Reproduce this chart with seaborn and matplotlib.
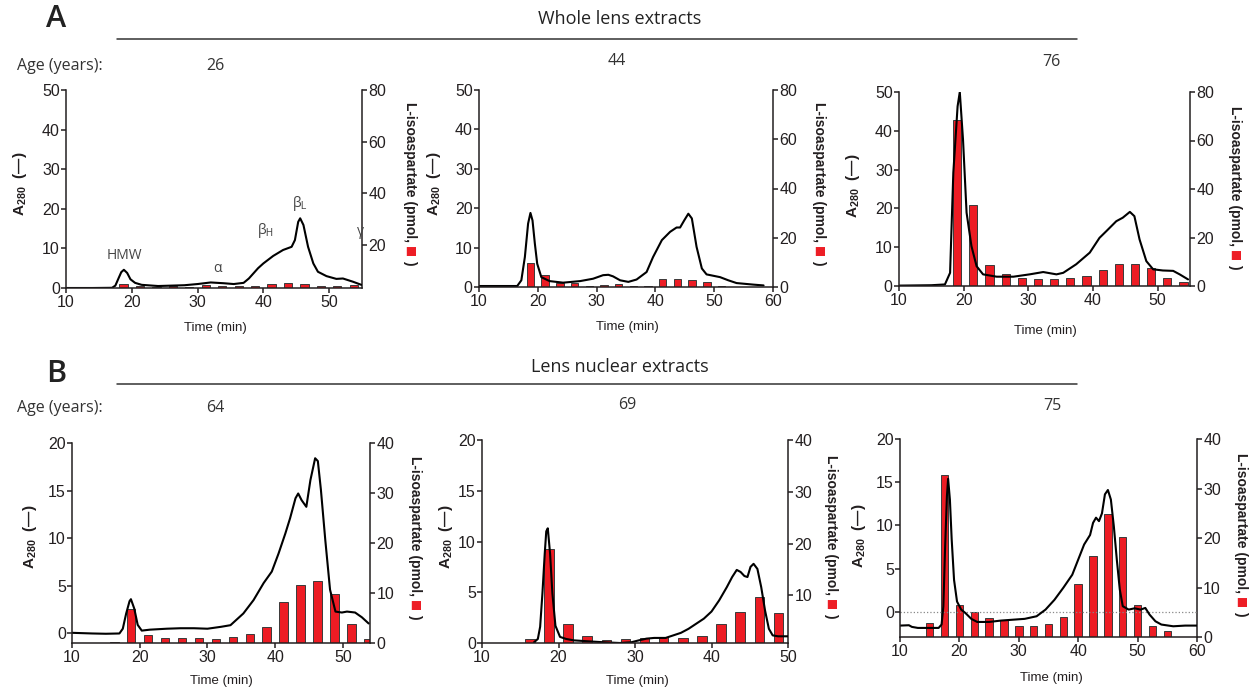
import matplotlib
matplotlib.use('Agg')
import matplotlib.pyplot as plt
from matplotlib.lines import Line2D
import seaborn as sns

# ---------------- data ----------------
# A: whole lens extracts
a26_time = [10, 14, 17, 17.5, 18.0, 18.4, 18.8, 19.3, 19.8, 20.5, 21.5, 24, 28, 30, 32, 34, 35.5,
            37, 37.8, 38.5, 39.2, 40, 41.5, 43, 44.3, 44.8, 45.3, 45.6, 46.1, 46.8, 47.6, 48.3,
            49.6, 51.1, 52.1, 53.6, 54.9]
a26_abs = [0, 0, 0.05, 0.6, 2.5, 4.0, 4.6, 3.8, 2.2, 1.3, 0.8, 0.5, 0.7, 1.0, 1.4, 1.2, 1.0,
           1.3, 2.4, 3.7, 5.0, 6.2, 8.1, 9.6, 10.4, 12.1, 16.7, 17.6, 15.9, 10.4, 6.2, 4.1,
           3.0, 2.3, 2.4, 1.6, 0.8]
a26_frac = [18.75, 21.25, 23.75, 26.25, 28.75, 31.25, 33.75, 36.25, 38.75, 41.25, 43.75, 46.25,
            48.75, 51.25, 53.75]
a26_iso = [4.9, 4.3, 3.6, 4.1, 3.6, 4.6, 4.2, 4.1, 4.0, 4.8, 5.2, 4.8, 4.0, 4.0, 4.4]

a44_time = [10, 16.5, 17.2, 17.8, 18.35, 18.75, 19.1, 19.5, 19.9, 20.6, 22.0, 24.3, 27.2, 29.4,
            31.1, 32.0, 32.8, 34.0, 35.4, 36.8, 38.5, 39.6, 41.1, 42.5, 43.6, 44.2, 44.9, 45.6,
            46.2, 47.0, 47.9, 48.7, 51.0, 52.4, 53.8, 56.7, 58.4]
a44_abs = [0.25, 0.25, 1.7, 7.6, 16.1, 18.8, 16.9, 11.0, 5.9, 2.5, 1.5, 1.1, 1.5, 2.1, 3.0, 3.1,
           2.7, 1.7, 1.3, 1.9, 3.8, 7.6, 11.9, 14.0, 15.1, 15.1, 16.9, 18.6, 17.4, 10.2, 4.7,
           3.2, 2.5, 1.7, 1.0, 0.6, 0.4]
a44_frac = [18.75, 21.25, 23.75, 26.25, 28.75, 31.25, 33.75, 36.25, 38.75, 41.25, 43.75, 46.25,
            48.75, 51.25]
a44_iso = [9.8, 5.0, 1.5, 1.5, 0.3, 0.7, 1.1, 0.3, 0.5, 3.1, 3.4, 2.8, 2.2, 0.5]

a76_time = [10, 15, 17.1, 17.9, 18.4, 19.06, 19.4, 19.9, 20.45, 21.2, 22.0, 23.0, 25.1, 27.7, 30.2,
            32.3, 34.35, 35.4, 37.4, 39.5, 41.0, 42.1, 43.6, 44.6, 45.7, 46.4, 47.2, 48.25, 49.3,
            50.8, 52.4, 53.4, 54.7]
a76_abs = [0.1, 0.2, 0.4, 3.4, 29.2, 46.3, 50.0, 37.7, 18.9, 10.3, 5.1, 3.0, 2.4, 2.4, 3.0, 3.6,
           3.0, 3.4, 5.6, 8.6, 12.4, 14.2, 16.7, 17.6, 19.1, 18.0, 12.0, 6.4, 4.3, 4.0, 3.9, 3.0, 1.7]
a76_frac = [19, 21.5, 24, 26.5, 29, 31.5, 34, 36.5, 39, 41.5, 44, 46.5, 49, 51.5, 54]
a76_iso = [68.6, 33.3, 8.5, 5.1, 3.3, 2.7, 2.9, 3.3, 4.1, 6.6, 9.1, 8.9, 7.5, 3.2, 1.6]

# B: lens nuclear extracts
b64_time = [10, 13, 15, 17, 17.5, 18, 18.5, 18.7, 19.2, 19.7, 20.3, 21.5, 24, 26, 28, 30, 32, 33.4,
            35.3, 36.8, 38.3, 39.5, 40.5, 41.5, 42.2, 43.0, 43.4, 43.9, 44.6, 45.2, 45.9, 46.3,
            46.75, 47.4, 48.1, 48.9, 49.85, 50.6, 51.8, 52.8, 53.8]
b64_abs = [0.07, 0, -0.03, 0, 0.5, 2.1, 3.4, 3.6, 2.6, 0.9, 0.3, 0.4, 0.5, 0.55, 0.55, 0.5, 0.7,
           0.87, 2.1, 3.5, 5.3, 6.5, 8.4, 10.5, 12.1, 14.2, 14.7, 14.0, 13.3, 16.1, 18.4, 18.1,
           15.1, 9.8, 4.6, 2.3, 2.2, 2.3, 2.2, 1.7, 1.05]
b64_frac = [16.25, 18.75, 21.25, 23.75, 26.25, 28.75, 31.25, 33.75, 36.25, 38.75, 41.25, 43.75,
            46.25, 48.75, 51.25, 53.75]
b64_iso = [0.2, 6.9, 1.7, 1.1, 1.1, 1.1, 0.9, 1.3, 1.8, 3.3, 8.3, 11.7, 12.4, 9.9, 3.9, 0.9]

b69_time = [16.8, 17.3, 17.6, 17.9, 18.2, 18.4, 18.6, 18.9, 19.2, 19.6, 20.2, 21, 22, 24, 26, 28,
            29.5, 30.5, 31.5, 32.5, 34, 35, 36, 37, 38, 39, 40, 41, 42, 42.7, 43.3, 43.8, 44.3,
            44.7, 45.1, 45.5, 46, 46.5, 47, 47.5, 48, 48.7, 49.5, 50]
b69_abs = [0.07, 0.4, 1.6, 4.9, 8.8, 11.0, 11.3, 8.8, 4.9, 1.7, 0.6, 0.4, 0.26, 0.16, 0.07, 0,
           0.07, 0.26, 0.43, 0.5, 0.5, 0.75, 1.0, 1.4, 1.9, 2.4, 3.1, 4.2, 5.5, 6.5, 7.2, 7.0,
           6.6, 6.5, 7.5, 7.8, 7.3, 5.5, 3.2, 1.4, 0.75, 0.66, 0.66, 0.66]
b69_frac = [16.25, 18.75, 21.25, 23.75, 26.25, 28.75, 31.25, 33.75, 36.25, 38.75, 41.25, 43.75,
            46.25, 48.75]
b69_iso = [1.6, 18.9, 4.45, 2.1, 1.3, 1.5, 1.8, 1.9, 1.7, 2.1, 4.4, 6.8, 9.7, 6.6]

b75_time = [10, 11.5, 12, 13, 15, 16.5, 17, 17.3, 17.6, 17.9, 18.1, 18.4, 18.7, 19.1, 19.6, 20.3,
            21, 22, 23, 25, 27, 29, 31, 33, 34.5, 36, 37.5, 39, 40, 41, 42, 42.5, 43, 43.5, 44,
            44.5, 45, 45.5, 46, 46.5, 47, 47.5, 48.5, 49.5, 50.5, 51.3, 52, 53, 54, 56, 58, 60]
b75_abs = [-1.58, -1.54, -1.73, -1.85, -1.85, -1.85, -1.46, 0.65, 7.6, 13.4, 15.4, 13.0, 8.4, 3.7,
           1.2, 0.27, -0.12, -0.8, -1.16, -1.16, -1.0, -0.9, -0.8, -0.5, 0.27, 1.4, 2.8, 4.3,
           6.05, 7.8, 8.9, 10.3, 10.9, 10.5, 11.4, 13.6, 14.1, 13.0, 9.9, 6.05, 2.6, 0.66, 0.27,
           0.42, 0.27, 0.46, -0.3, -1.08, -1.46, -1.66, -1.58, -1.58]
b75_frac = [15, 17.5, 20, 22.5, 25, 27.5, 30, 32.5, 35, 37.5, 40, 42.5, 45, 47.5, 50, 52.5, 55]
b75_iso = [2.9, 32.7, 6.55, 5.0, 3.85, 3.4, 2.2, 2.2, 2.6, 4.05, 10.8, 16.4, 24.9, 20.2, 6.4, 2.2, 1.2]

ages_a = ['26', '44', '76']
ages_b = ['64', '69', '75']
peak_names = ['HMW', 'α', r'β$_{\mathrm{H}}$', r'β$_{\mathrm{L}}$', 'γ']
peak_pos = [(18.8, 8.3), (33.1, 5.0), (40.3, 14.6), (45.6, 21.4), (54.8, 14.3)]

# ---------------- style ----------------
RED = '#ED1C24'
INK = '#231F20'
sns.set_theme(style='ticks')
plt.rcParams.update({
    'axes.edgecolor': INK, 'axes.linewidth': 1.1,
    'xtick.color': INK, 'ytick.color': INK,
    'xtick.major.size': 3.5, 'ytick.major.size': 3.5,
    'xtick.major.width': 1.1, 'ytick.major.width': 1.1,
    'xtick.major.pad': 1.5, 'ytick.major.pad': 1.0,
    'xtick.labelsize': 11.5, 'ytick.labelsize': 11.5,
    'mathtext.fontset': 'custom', 'mathtext.rm': 'Liberation Sans',
    'mathtext.bf': 'Liberation Sans:bold', 'mathtext.it': 'Liberation Sans:italic',
})
plt.rcParams['font.family'] = ['Liberation Sans', 'DejaVu Sans']
HEAD = ['Open Sans', 'DejaVu Sans']

W, H = 1249, 691
fig = plt.figure(figsize=(W / 100, H / 100), dpi=100)


def fx(px):
    return px / W


def fy(py):
    return 1 - py / H


def right_label(cx, cy, size=10):
    # "L-isoaspartate (pmol, ■ )" with a red square, reading top to bottom
    r = fig.canvas.get_renderer()
    parts = [('L-isoaspartate (pmol,', INK, size, ['Liberation Sans']),
             ('■', RED, size * 0.85, ['DejaVu Sans']),
             (')', INK, size, ['Liberation Sans'])]
    gaps = [0, 4, 3]
    texts = [fig.text(0, 0, s, rotation=270, color=c, fontsize=fs, fontweight='bold',
                      family=fam, ha='center', va='top') for s, c, fs, fam in parts]
    hs = [t.get_window_extent(r).height for t in texts]
    top = (H - cy) + (sum(hs) + sum(gaps)) / 2
    for t, h, g in zip(texts, hs, gaps):
        top -= g
        t.set_position((fx(cx), top / H))
        top -= h


def draw_panel(box, t, a, ft, iso, xlim, ylim_l, ylim_r, yt_l, yt_r, xt,
               ylab_l, ylab_r, xlab):
    x0, y0, x1, y1 = box
    ax = fig.add_axes([fx(x0), fy(y1), (x1 - x0) / W, (y1 - y0) / H])
    ax2 = ax.twinx()
    sns.barplot(x=ft, y=iso, ax=ax2, native_scale=True, width=0.5, color=RED,
                saturation=1, edgecolor='#3a3a3a', linewidth=0.7, errorbar=None)
    sns.lineplot(x=t, y=a, ax=ax, color='black', lw=1.5, sort=False, estimator=None)
    ax.set_zorder(ax2.get_zorder() + 1)
    ax.patch.set_visible(False)

    ax.set_xlim(*xlim)
    ax.set_xticks(xt)
    ax.set_yticks(yt_l)
    ax2.set_yticks(yt_r)
    ax.set_ylim(*ylim_l)
    ax2.set_ylim(*ylim_r)
    ax.set_xlabel('')
    ax.set_ylabel('')
    ax2.set_ylabel('')
    for s in ['top', 'right']:
        ax.spines[s].set_visible(False)
    for s in ['top', 'left', 'bottom']:
        ax2.spines[s].set_visible(False)
    ax2.tick_params(axis='y', left=False, right=True, pad=1.0)

    fig.text(fx(ylab_l[0]), fy(ylab_l[1]), r'$\mathbf{A_{280}}$  (—)', rotation=90,
             ha='center', va='center', fontsize=11, fontweight='bold', color=INK)
    right_label(*ylab_r)
    fig.text(fx(xlab[0]), fy(xlab[1]), 'Time (min)', ha='center', va='center',
             fontsize=9.5, color=INK)
    return ax, ax2


ax_a1, _ = draw_panel((66, 90, 362, 288), a26_time, a26_abs, a26_frac, a26_iso,
                      (10, 55), (0, 50), (3.4, 80), range(0, 51, 10), range(0, 81, 20),
                      range(10, 51, 10), (20, 184), (410, 183), (215, 328))
draw_panel((479, 90, 773, 287), a44_time, a44_abs, a44_frac, a44_iso,
           (10, 60), (0, 50), (0, 80), range(0, 51, 10), range(0, 81, 20),
           range(10, 61, 10), (434, 184), (819, 183), (627, 327))
draw_panel((899, 92, 1190, 286), a76_time, a76_abs, a76_frac, a76_iso,
           (10, 55), (0, 50), (0, 80), range(0, 51, 10), range(0, 81, 20),
           range(10, 51, 10), (853, 186), (1235, 187), (1045, 331))
draw_panel((72, 443, 370, 643), b64_time, b64_abs, b64_frac, b64_iso,
           (10, 54), (-1, 20), (0, 40), range(0, 21, 5), range(0, 41, 10),
           range(10, 51, 10), (30, 537), (415, 537), (221, 681))
draw_panel((482, 440, 788, 643), b69_time, b69_abs, b69_frac, b69_iso,
           (10, 50), (0, 20), (0.8, 40), range(0, 21, 5), range(0, 41, 10),
           range(10, 51, 10), (446, 537), (831, 536), (637, 681))
ax_b3, _ = draw_panel((900, 439, 1197, 637), b75_time, b75_abs, b75_frac, b75_iso,
                      (10, 60), (-2.9, 20), (0, 40), range(0, 21, 5), range(0, 41, 10),
                      range(10, 61, 10), (859, 536), (1241, 534), (1051, 678))
ax_b3.axhline(0, color='#888888', ls=':', lw=0.9, zorder=0)

# peak names on the 26-year trace
for name, (px, py) in zip(peak_names, peak_pos):
    ax_a1.text(px, py, name, ha='center', va='center', fontsize=10, color='#444444',
               family=HEAD)

# headers
for letter, (px, py) in zip(['A', 'B'], [(56, 19), (56, 374)]):
    fig.text(fx(px), fy(py), letter, ha='center', va='center', fontsize=22,
             fontweight='semibold', color='#222222', family=HEAD)
for title, py, ly in [('Whole lens extracts', 19, 39), ('Lens nuclear extracts', 367, 384)]:
    fig.text(fx(620), fy(py), title, ha='center', va='center', fontsize=13,
             color='#222222', family=HEAD)
    fig.add_artist(Line2D([fx(117), fx(1077)], [fy(ly), fy(ly)], color='#333333', lw=1.1))

for py in (66, 408):
    fig.text(fx(17), fy(py), 'Age (years):', ha='left', va='center', fontsize=11.5,
             color='#333333', family=HEAD)
for age, (px, py) in zip(ages_a, [(215, 66), (617, 61), (1051, 62)]):
    fig.text(fx(px), fy(py), age, ha='center', va='center', fontsize=11.5,
             color='#333333', family=HEAD)
for age, (px, py) in zip(ages_b, [(215, 408), (627, 405), (1052, 406)]):
    fig.text(fx(px), fy(py), age, ha='center', va='center', fontsize=11.5,
             color='#333333', family=HEAD)

fig.savefig('out.png', dpi=100)
